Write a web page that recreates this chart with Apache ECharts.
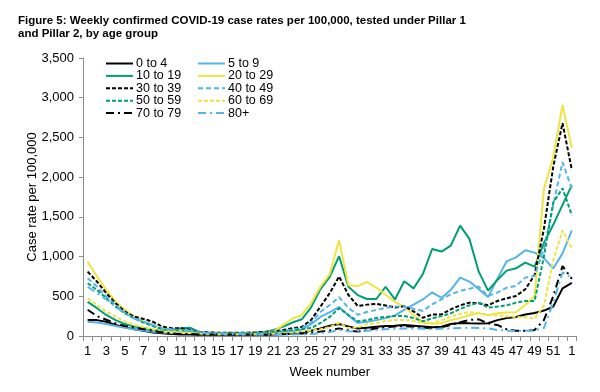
<!DOCTYPE html>
<html><head><meta charset="utf-8">
<script src="https://cdn.jsdelivr.net/npm/echarts@6/dist/echarts.min.js"></script>
<style>html,body{margin:0;padding:0;background:#fff}#c{width:600px;height:392px}</style>
</head><body><div id="c"></div>
<script>
const weeks = ['1','2','3','4','5','6','7','8','9','10','11','12','13','14','15','16','17','18','19','20','21','22','23','24','25','26','27','28','29','30','31','32','33','34','35','36','37','38','39','40','41','42','43','44','45','46','47','48','49','50','51','52','1'];
const yTicks = [0,500,1000,1500,2000,2500,3000,3500];

const age0_4 = [200,200,180,140,110,85,65,45,35,25,20,20,15,15,15,15,15,15,15,15,20,25,30,45,65,95,130,150,120,95,105,115,125,130,140,130,120,110,118,150,165,160,158,160,200,225,240,270,290,320,370,600,670];
const age5_9 = [180,170,150,125,105,85,68,55,45,40,40,38,35,30,30,30,30,30,30,30,35,40,55,80,150,240,300,365,260,165,180,200,225,260,330,395,460,550,480,580,735,685,590,490,720,940,990,1080,1050,980,850,1040,1330];
const age10_19 = [430,350,265,200,150,118,97,76,63,76,97,105,45,35,33,33,33,35,40,50,75,118,170,210,360,590,745,1005,620,515,466,466,620,460,690,600,780,1095,1063,1138,1390,1222,810,571,706,823,852,924,874,1170,1400,1650,1900];
const age20_29 = [935,750,580,435,330,245,180,125,85,65,55,55,42,35,33,33,33,35,40,45,60,140,220,265,415,620,780,1205,640,630,680,610,520,430,370,265,175,155,160,200,225,265,285,265,285,295,300,390,500,1850,2250,2910,2370];
const age30_39 = [810,685,540,412,307,244,215,180,118,97,97,76,55,45,42,42,42,42,45,50,55,76,97,113,202,370,540,750,517,378,395,405,385,360,375,310,230,270,273,336,386,420,412,386,441,474,504,588,768,1350,2130,2680,2090];
const age40_49 = [727,622,496,391,294,223,180,139,97,85,76,70,50,40,38,38,38,38,40,45,50,60,80,100,170,302,390,490,353,268,302,328,355,370,370,344,315,399,462,525,567,596,622,504,546,609,630,735,756,1100,1650,2190,1850];
const age50_59 = [664,580,475,370,286,223,168,126,84,75,70,65,45,38,35,35,35,35,38,40,45,55,70,85,100,164,240,350,265,185,200,227,240,252,252,227,185,223,250,286,340,386,420,357,370,386,420,441,441,1000,1680,1860,1520];
const age60_69 = [475,391,307,244,180,139,109,84,55,45,40,38,30,25,22,22,22,22,22,25,28,35,45,55,70,85,113,164,100,110,150,164,189,202,200,190,164,160,200,244,280,300,290,265,260,250,240,235,220,380,950,1330,1100];
const age70_79 = [330,250,205,160,126,105,85,67,45,30,25,25,20,18,18,18,18,18,18,18,20,22,25,30,40,55,70,96,70,55,75,96,110,120,125,115,105,100,110,139,175,202,210,160,139,84,67,67,76,200,500,880,720];
const age80 = [620,540,460,370,290,220,180,140,100,80,75,65,45,35,30,28,25,22,20,18,18,18,20,22,25,35,50,76,60,55,65,75,85,90,95,95,90,85,90,95,100,105,100,96,75,67,67,67,70,100,420,800,740];

const BLACK = '#000000', BLUE = '#56B4E9', GREEN = '#009E73', YELLOW = '#F0E442';
const FONT = '"Liberation Sans", Arial, sans-serif';

function mk(name, data, color, type) {
  return {
    name, type: 'line', data, symbol: 'none', smooth: false,
    lineStyle: { color, width: 2, type: type || 'solid' },
    itemStyle: { color },
    emphasis: { disabled: true }, animation: false
  };
}

const series = [
  mk('0 to 4', age0_4, BLACK),
  mk('5 to 9', age5_9, BLUE),
  mk('10 to 19', age10_19, GREEN),
  mk('20 to 29', age20_29, YELLOW),
  mk('30 to 39', age30_39, BLACK, [4, 2]),
  mk('40 to 49', age40_49, BLUE, [5, 3]),
  mk('50 to 59', age50_59, GREEN, [4, 2]),
  mk('60 to 69', age60_69, YELLOW, [4, 2]),
  mk('70 to 79', age70_79, BLACK, [8, 4, 2, 4]),
  mk('80+', age80, BLUE, [8, 4, 2, 4])
];

const legendCommon = {
  orient: 'vertical', itemWidth: 27, itemHeight: 10, itemGap: -0.6,
  itemStyle: { opacity: 0, borderWidth: 0 },
  textStyle: { fontFamily: FONT, fontSize: 12.5, lineHeight: 12, color: '#000', padding: [0, 0, 0, -2] },
  selectedMode: false, padding: 0
};

const chart = echarts.init(document.getElementById('c'), null, { renderer: 'canvas' });
chart.setOption({
  animation: false,
  backgroundColor: '#fff',
  title: {
    text: 'Figure 5: Weekly confirmed COVID-19 case rates per 100,000, tested under Pillar 1\nand Pillar 2, by age group',
    left: 18, top: 14, padding: 0,
    textStyle: { fontFamily: FONT, fontSize: 11.5, fontWeight: 'bold', color: '#000', lineHeight: 13 }
  },
  legend: [
    Object.assign({ left: 105, top: 57, data: ['0 to 4', '10 to 19', '30 to 39', '50 to 59', '70 to 79'] }, legendCommon),
    Object.assign({ left: 197, top: 57, data: ['5 to 9', '20 to 29', '40 to 49', '60 to 69', '80+'] }, legendCommon)
  ],
  grid: { left: 83, right: 23.5, top: 58, bottom: 56, containLabel: false },
  xAxis: {
    type: 'category', data: weeks, boundaryGap: true,
    name: 'Week number', nameLocation: 'middle', nameGap: 30,
    nameTextStyle: { fontFamily: FONT, fontSize: 13, color: '#000' },
    axisLine: { lineStyle: { color: '#8c8c8c', width: 1 } },
    axisTick: { show: true, length: 5, interval: 0, lineStyle: { color: '#8c8c8c' } },
    axisLabel: { interval: 1, fontFamily: FONT, fontSize: 13, color: '#000', margin: 9 },
    splitLine: { show: false }
  },
  yAxis: {
    type: 'value', min: 0, max: 3500, interval: 500,
    name: 'Case rate per 100,000', nameLocation: 'middle', nameGap: 44, nameRotate: 90,
    nameMoveOverlap: false,
    nameTextStyle: { fontFamily: FONT, fontSize: 13, color: '#000' },
    axisLine: { show: true, lineStyle: { color: '#8c8c8c', width: 1 } },
    axisTick: { show: true, length: 4, lineStyle: { color: '#8c8c8c' } },
    axisLabel: {
      fontFamily: FONT, fontSize: 13, color: '#000', margin: 9,
      formatter: v => yTicks.includes(v) ? v.toLocaleString('en-US') : ''
    },
    splitLine: { show: false }
  },
  series
});
</script></body></html>
